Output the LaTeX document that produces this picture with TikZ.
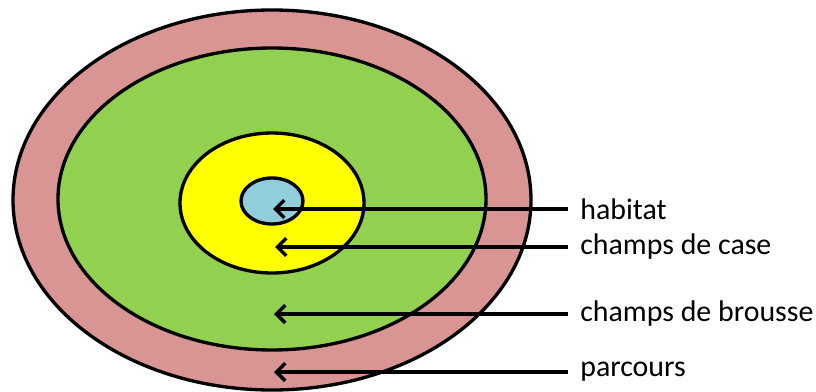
\documentclass[tikz,border=0pt]{standalone}
\usepackage{fontspec}
\setmainfont{Carlito}
\usetikzlibrary{arrows.meta}
\usetikzlibrary{calc}
\usetikzlibrary{positioning}

\definecolor{parcourscol}{HTML}{D99594}
\definecolor{brousse}{HTML}{92D050}
\definecolor{casecol}{HTML}{FFFF00}
\definecolor{habitatcol}{HTML}{92CDDC}

\tikzset{
    zone/.style={draw=black, line width=1.9pt},
    label/.style={anchor=west, inner sep=0pt, font=\fontsize{17}{20}\selectfont},
    pointer/.style={line width=2.1pt, -{Straight Barb[length=5pt,width=10pt,line width=2pt]}}
}

\begin{document}
\begin{tikzpicture}[x=0.02cm, y=-0.02cm]
    \useasboundingbox (0,0) rectangle (816,392);

    \coordinate (centre) at (272,200);

    \draw[zone, fill=parcourscol] (centre) ellipse [x radius=259, y radius=190];
    \draw[zone, fill=brousse] (centre)++(0,-1) ellipse [x radius=214, y radius=151];
    \draw[zone, fill=casecol] (centre)++(0,3) ellipse [x radius=92, y radius=70];
    \draw[zone, fill=habitatcol] (centre)++(0,1) ellipse [x radius=31, y radius=23];

    \node[label] (habitat) at (580,209) {habitat};
    \node[label] (case) at (580,247) {champs de case};
    \node[label] (brousse) at (580,314) {champs de brousse};
    \node[label] (parcours) at (580,372) {parcours};

    \coordinate (habitat-end) at (273,209);
    \coordinate (case-end) at (275,247);
    \coordinate (brousse-end) at (274,314);
    \coordinate (parcours-end) at (274,372);

    \draw[pointer] ($(habitat.west)+(-12,0)$) -- (habitat-end);
    \draw[pointer] ($(case.west)+(-12,0)$) -- (case-end);
    \draw[pointer] ($(brousse.west)+(-12,0)$) -- (brousse-end);
    \draw[pointer] ($(parcours.west)+(-12,0)$) -- (parcours-end);
\end{tikzpicture}
\end{document}
